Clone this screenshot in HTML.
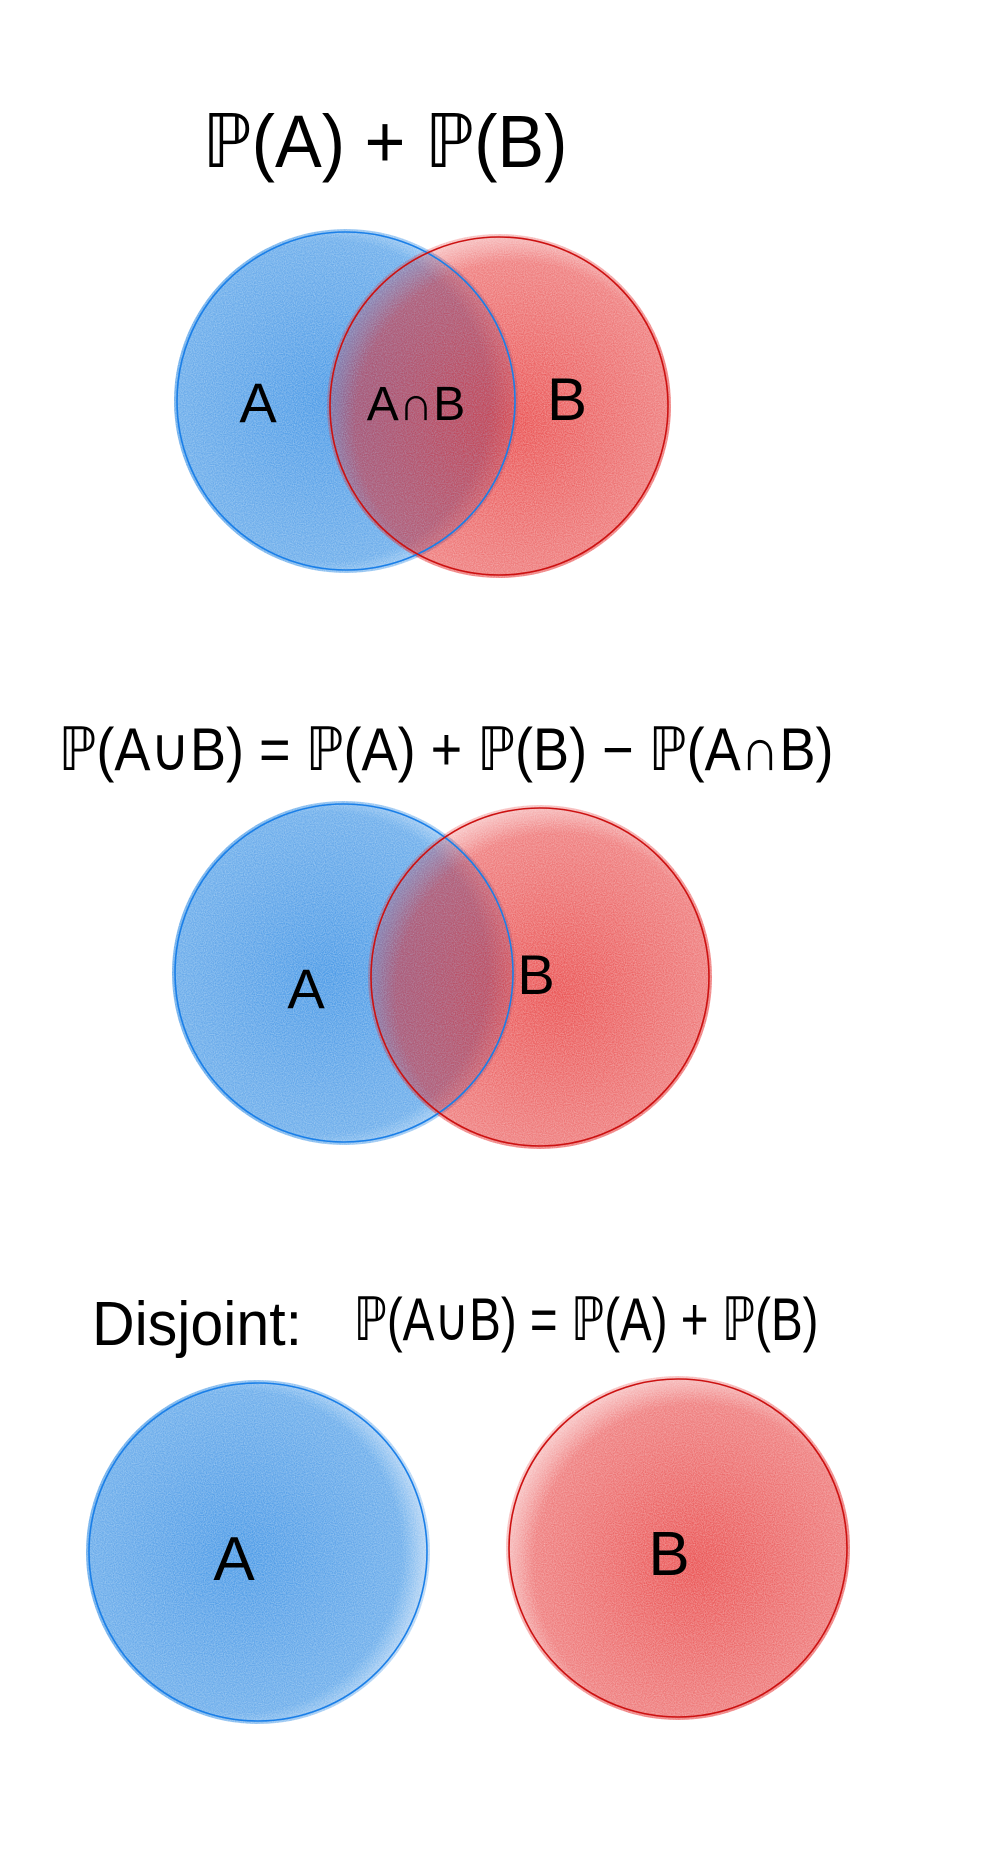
<!DOCTYPE html>
<html><head><meta charset="utf-8"><style>
html,body{margin:0;padding:0;background:#fff;}
svg{display:block}
text{font-family:"Liberation Sans",sans-serif;fill:#000;}
</style></head><body>
<svg width="1000" height="1852" viewBox="0 0 1000 1852">
<defs>
<filter id="grain" x="-10%" y="-10%" width="120%" height="120%">
<feTurbulence type="fractalNoise" baseFrequency="0.9" numOctaves="2" seed="3" result="n"/>
<feColorMatrix in="n" type="matrix" values="0 0 0 0 0  0 0 0 0 0  0 0 0 0 0  0 0 0 -0.7 1.2" result="a"/>
<feComposite in="SourceGraphic" in2="a" operator="in"/>
</filter>
<radialGradient id="gb" cx="45%" cy="50%" r="55%"><stop offset="0" stop-color="#1a7fe0" stop-opacity="0.8"/><stop offset="0.85" stop-color="#1a7fe0" stop-opacity="0.65"/><stop offset="1" stop-color="#1a7fe0" stop-opacity="0.3"/></radialGradient>
<radialGradient id="gr" cx="55%" cy="55%" r="55%"><stop offset="0" stop-color="#e42525" stop-opacity="0.8"/><stop offset="0.85" stop-color="#e42525" stop-opacity="0.6"/><stop offset="1" stop-color="#e42525" stop-opacity="0.3"/></radialGradient>
</defs>
<g id="g"></g>
</svg>
<script>
var circlesA=[[346,401],[344,973],[258,1552]];
var circlesB=[[499,406],[540,977],[678,1548]];
var R=169;
var g=document.getElementById('g');
var NS='http://www.w3.org/2000/svg';
function mk(t,a){var e=document.createElementNS(NS,t);for(var k in a)e.setAttribute(k,a[k]);g.appendChild(e);return e;}
for(var i=0;i<3;i++){
 var fa=mk('circle',{cx:circlesA[i][0],cy:circlesA[i][1],r:R+3,fill:'url(#gb)',filter:'url(#grain)'});
 
 
 var fb=mk('circle',{cx:circlesB[i][0],cy:circlesB[i][1],r:R+3,fill:'url(#gr)',filter:'url(#grain)'});
 
 
 var oa=mk('circle',{cx:circlesA[i][0],cy:circlesA[i][1],r:R,fill:'none',stroke:'#1a7fe8','stroke-width':1.6});
 
 
 var ob=mk('circle',{cx:circlesB[i][0],cy:circlesB[i][1],r:R,fill:'none',stroke:'#cc1111','stroke-width':1.6});
 
 
}
var labels=[["A",258,422,56],["A∩B",416,420,48],["B",567,420,60],["A",306,1008,56],["B",536,994,56],["A",234,1580,62],["B",669,1575,62]];
labels.forEach(function(l){
 var t=mk('text',{x:l[1],y:l[2],'font-size':l[3],'text-anchor':'middle'});
 t.textContent=l[0];
 
 
});
var titles=[["ℙ(A) + ℙ(B)",385,167,74,365],["ℙ(A∪B) = ℙ(A) + ℙ(B) − ℙ(A∩B)",446,770,60,775],["Disjoint:",197,1345,62,210],["ℙ(A∪B) = ℙ(A) + ℙ(B)",586,1340,60,465]];
titles.forEach(function(l){
 var t=mk('text',{x:l[1],y:l[2],'font-size':l[3],'text-anchor':'middle',textLength:l[4],lengthAdjust:'spacingAndGlyphs'});
 t.textContent=l[0];
 
 
});
</script>
</body></html>
